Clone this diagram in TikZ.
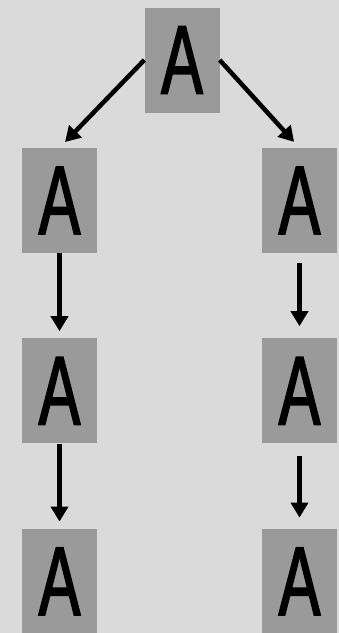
\documentclass[tikz,border=0pt]{standalone}
\usepackage{fontspec}
\newfontfamily\boxfont{Liberation Sans}[FakeStretch=0.64, FakeBold=1.5]
\usetikzlibrary{arrows.meta, positioning}
\definecolor{bggray}{HTML}{DADADA}
\definecolor{boxgray}{HTML}{9A9A9A}

\begin{document}
\begin{tikzpicture}[
  x=1pt, y=1pt,
  letter/.style={rectangle, fill=boxgray, minimum width=75pt,
                 minimum height=105pt, inner sep=0pt,
                 font=\boxfont\fontsize{98}{98}\selectfont},
  link/.style={-{Triangle[length=15pt, width=17pt]}, line width=4.5pt, black},
  node distance=85pt
]
  \fill[bggray] (0,0) rectangle (339,-633);
  \useasboundingbox (0,0) rectangle (339,-633);

  \node[letter] (top) at (182,-60) {A};
  \node[letter] (l1) at (59.5,-200.5) {A};
  \node[letter] (r1) at (299.5,-200.5) {A};
  \node[letter, below=of l1] (l2) {A};
  \node[letter, below=of l2] (l3) {A};
  \node[letter, below=of r1] (r2) {A};
  \node[letter, below=of r2] (r3) {A};

  \draw[link, shorten >=8pt] (top.west) -- (l1.north);
  \draw[link, shorten >=8pt] (top.east) -- (r1.north);
  \draw[link, shorten >=7pt] (l1.south) -- (l2.north);
  \draw[link, shorten >=7pt] (l2.south) -- (l3.north);
  \draw[link, shorten <=10pt, shorten >=12pt] (r1.south) -- (r2.north);
  \draw[link, shorten <=12pt, shorten >=11pt] (r2.south) -- (r3.north);
\end{tikzpicture}
\end{document}
